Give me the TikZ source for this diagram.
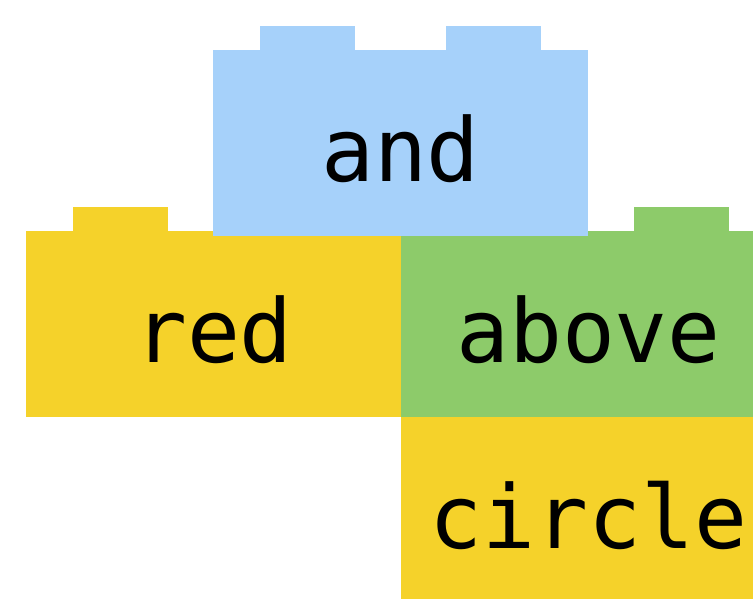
\documentclass[tikz,border=0pt]{standalone}
\usepackage{fontspec}
\newfontfamily\brickfont{DejaVu Sans Mono}
\definecolor{brickblue}{RGB}{166,209,250}
\definecolor{brickyellow}{RGB}{245,210,42}
\definecolor{brickgreen}{RGB}{141,203,106}
\tikzset{
  lbl/.style={inner sep=0pt, anchor=base, font=\brickfont\fontsize{88}{88}\selectfont, text=black}
}
\newcommand\legobrick[5]{%
  \fill[#3] (#1,#2) rectangle ++(375,186);
  \fill[#3] (#1+47,#2-24) rectangle ++(95,24);
  \fill[#3] (#1+233,#2-24) rectangle ++(95,24);
  \node[lbl] (#5) at (#1+187.5,#2+131) {#4};
}
\begin{document}
\begin{tikzpicture}[x=1pt,y=-1pt]
  \useasboundingbox (0,0) rectangle (753,598);
  \clip (0,0) rectangle (753,598);
  \legobrick{401}{417}{brickyellow}{circle}{circle}
  \legobrick{26}{231}{brickyellow}{red}{red}
  \legobrick{401}{231}{brickgreen}{above}{above}
  \legobrick{213}{50}{brickblue}{and}{and}
\end{tikzpicture}
\end{document}
